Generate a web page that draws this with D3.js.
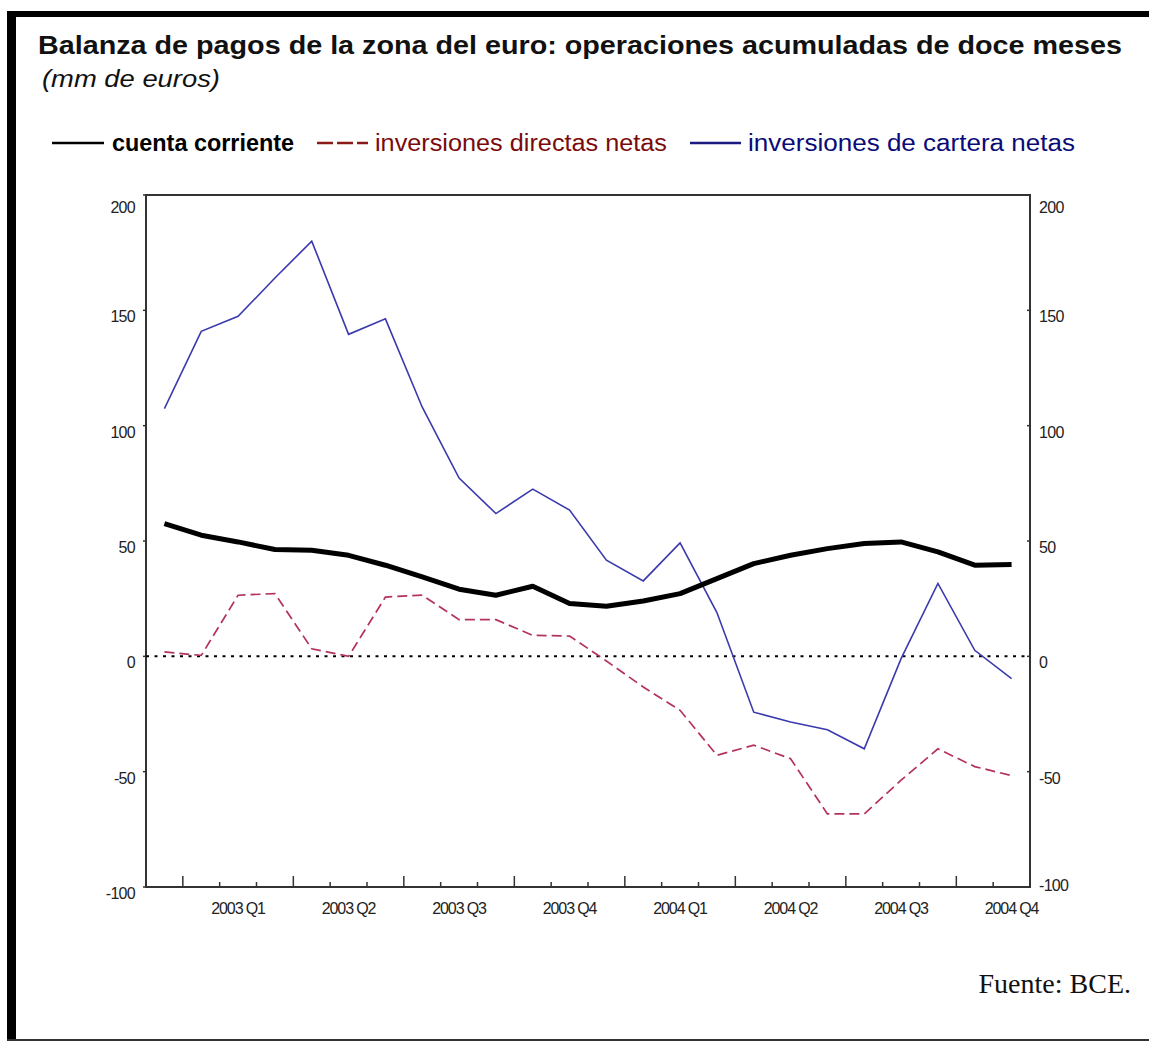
<!DOCTYPE html>
<html>
<head>
<meta charset="utf-8">
<script src="https://cdn.jsdelivr.net/npm/d3@7"></script>
<style>
  html, body { margin: 0; padding: 0; background: #fff; }
  svg { display: block; }
</style>
</head>
<body>
<svg id="chart" width="1149" height="1043"></svg>
<script>
// ---- DATA ----
const months = ["dic 2002","ene 2003","feb 2003","mar 2003","abr 2003","may 2003","jun 2003",
  "jul 2003","ago 2003","sep 2003","oct 2003","nov 2003","dic 2003","ene 2004","feb 2004",
  "mar 2004","abr 2004","may 2004","jun 2004","jul 2004","ago 2004","sep 2004","oct 2004","nov 2004"];
const cuentaCorriente = [57.5, 52.5, 49.6, 46.3, 46.0, 43.8, 39.5, 34.4, 29.1, 26.5, 30.4, 22.9,
  21.7, 24.0, 27.2, 33.7, 40.2, 43.8, 46.7, 48.9, 49.6, 45.3, 39.5, 39.8];
const inversionesDirectas = [1.9, 0.4, 26.5, 27.2, 3.3, 0.0, 25.7, 26.5, 15.9, 15.9, 9.1, 8.8,
  -2.0, -13.3, -23.4, -42.9, -38.5, -44.4, -68.3, -68.3, -53.7, -40.1, -47.8, -51.7];
const inversionesCartera = [107.4, 140.9, 147.4, 164.0, 180.0, 139.6, 146.3, 108.0, 77.3, 61.9, 72.5, 63.4,
  41.7, 32.7, 49.2, 19.0, -24.2, -28.5, -31.8, -40.1, -1.0, 31.6, 2.6, -9.7];
const yTicks = [-100, -50, 0, 50, 100, 150, 200];
const quarterLabels = ["2003 Q1","2003 Q2","2003 Q3","2003 Q4","2004 Q1","2004 Q2","2004 Q3","2004 Q4"];
const quarterMidMonths = ["feb 2003","may 2003","ago 2003","nov 2003","feb 2004","may 2004","ago 2004","nov 2004"];
const quarterStartMonths = ["ene 2003","abr 2003","jul 2003","oct 2003","ene 2004","abr 2004","jul 2004","oct 2004"];

const titleText = "Balanza de pagos de la zona del euro: operaciones acumuladas de doce meses";
const subtitleText = "(mm de euros)";
const legendLabels = ["cuenta corriente", "inversiones directas netas", "inversiones de cartera netas"];
const sourceText = "Fuente: BCE.";

// ---- LAYOUT ----
const svg = d3.select("#chart");
const L = 146, R = 1030, T = 195, B = 887;
const x = d3.scaleBand().domain(months).range([L, R]).paddingInner(0).paddingOuter(0);
const y = d3.scaleLinear().domain([-100, 200]).range([B, T]);
const cx = m => x(m) + x.bandwidth() / 2;
const font = "'Liberation Sans', Arial, sans-serif";

// page frame
svg.append("rect").attr("x", 7).attr("y", 11).attr("width", 1142).attr("height", 6).attr("fill", "#000");
svg.append("rect").attr("x", 7).attr("y", 11).attr("width", 9).attr("height", 1030).attr("fill", "#000");
svg.append("rect").attr("x", 7).attr("y", 1039).attr("width", 1142).attr("height", 2).attr("fill", "#333");

// title
svg.append("text").attr("x", 38).attr("y", 54)
  .attr("font-family", font).attr("font-weight", "bold").attr("font-size", 25)
  .attr("textLength", 1084).attr("lengthAdjust", "spacingAndGlyphs")
  .attr("fill", "#111").text(titleText);
svg.append("text").attr("x", 42).attr("y", 87)
  .attr("font-family", font).attr("font-style", "italic").attr("font-size", 23)
  .attr("textLength", 178).attr("lengthAdjust", "spacingAndGlyphs")
  .attr("fill", "#111").text(subtitleText);

// legend
const legend = [
  {lx1: 52, lx2: 104, tx: 112, tw: 182, line: "#000", txt: "#000", bold: true, dash: null, w: 2.5},
  {lx1: 317, lx2: 368, tx: 375, tw: 292, line: "#8b1a1a", txt: "#7a0a0a", bold: false, dash: "16,4", w: 2.5},
  {lx1: 690, lx2: 741, tx: 748, tw: 327, line: "#1a1a80", txt: "#0a0a78", bold: false, dash: null, w: 2.5}
];
legend.forEach((d, i) => {
  svg.append("line").attr("x1", d.lx1).attr("x2", d.lx2).attr("y1", 143).attr("y2", 143)
    .attr("stroke", d.line).attr("stroke-width", d.w).attr("stroke-dasharray", d.dash);
  svg.append("text").attr("x", d.tx).attr("y", 151)
    .attr("font-family", font).attr("font-size", 23).attr("font-weight", d.bold ? "bold" : "normal")
    .attr("textLength", d.tw).attr("lengthAdjust", "spacingAndGlyphs")
    .attr("fill", d.txt).text(legendLabels[i]);
});

// plot box
svg.append("rect").attr("x", L).attr("y", T).attr("width", R - L).attr("height", B - T)
  .attr("fill", "none").attr("stroke", "#333").attr("stroke-width", 2);

// y ticks and labels (left + right)
const tickFont = 16;
yTicks.forEach(v => {
  const yy = y(v);
  [L, R].forEach(ax => {
    svg.append("line").attr("x1", ax - 3).attr("x2", ax).attr("y1", yy).attr("y2", yy)
      .attr("stroke", "#333").attr("stroke-width", 1.5);
  });
  const ly = Math.max(yy + 12, T + 18);
  svg.append("text").attr("x", 135).attr("y", ly).attr("text-anchor", "end")
    .attr("font-family", font).attr("font-size", tickFont).attr("letter-spacing", -0.7)
    .attr("fill", "#222").text(v);
  svg.append("text").attr("x", 1039).attr("y", Math.min(ly, B + 4)).attr("text-anchor", "start")
    .attr("font-family", font).attr("font-size", tickFont).attr("letter-spacing", -0.7)
    .attr("fill", "#222").text(v);
});

// x ticks at month boundaries
months.slice(1).forEach(m => {
  const tall = quarterStartMonths.includes(m);
  const xx = x(m);
  svg.append("line").attr("x1", xx).attr("x2", xx).attr("y1", B).attr("y2", B - (tall ? 11 : 5))
    .attr("stroke", "#333").attr("stroke-width", 1.5);
});
quarterLabels.forEach((q, i) => {
  svg.append("text").attr("x", cx(quarterMidMonths[i])).attr("y", 914).attr("text-anchor", "middle")
    .attr("font-family", font).attr("font-size", tickFont).attr("letter-spacing", -1.1)
    .attr("fill", "#222").text(q);
});

// zero line
svg.append("line").attr("x1", L).attr("x2", R).attr("y1", y(0)).attr("y2", y(0))
  .attr("stroke", "#000").attr("stroke-width", 2).attr("stroke-dasharray", "3,5.5");

// series
const line = d3.line().x((d, i) => cx(months[i])).y(d => y(d));
svg.append("path").datum(inversionesDirectas).attr("d", line)
  .attr("fill", "none").attr("stroke", "#b4335a").attr("stroke-width", 1.7)
  .attr("stroke-dasharray", "10,5");
svg.append("path").datum(inversionesCartera).attr("d", line)
  .attr("fill", "none").attr("stroke", "#3a3aae").attr("stroke-width", 1.6);
svg.append("path").datum(cuentaCorriente).attr("d", line)
  .attr("fill", "none").attr("stroke", "#000").attr("stroke-width", 5)
  .attr("stroke-linejoin", "round");

// source
svg.append("text").attr("x", 1131).attr("y", 993).attr("text-anchor", "end")
  .attr("font-family", "'Liberation Serif', 'Times New Roman', serif").attr("font-size", 28)
  .attr("fill", "#111").text(sourceText);
</script>
</body>
</html>
